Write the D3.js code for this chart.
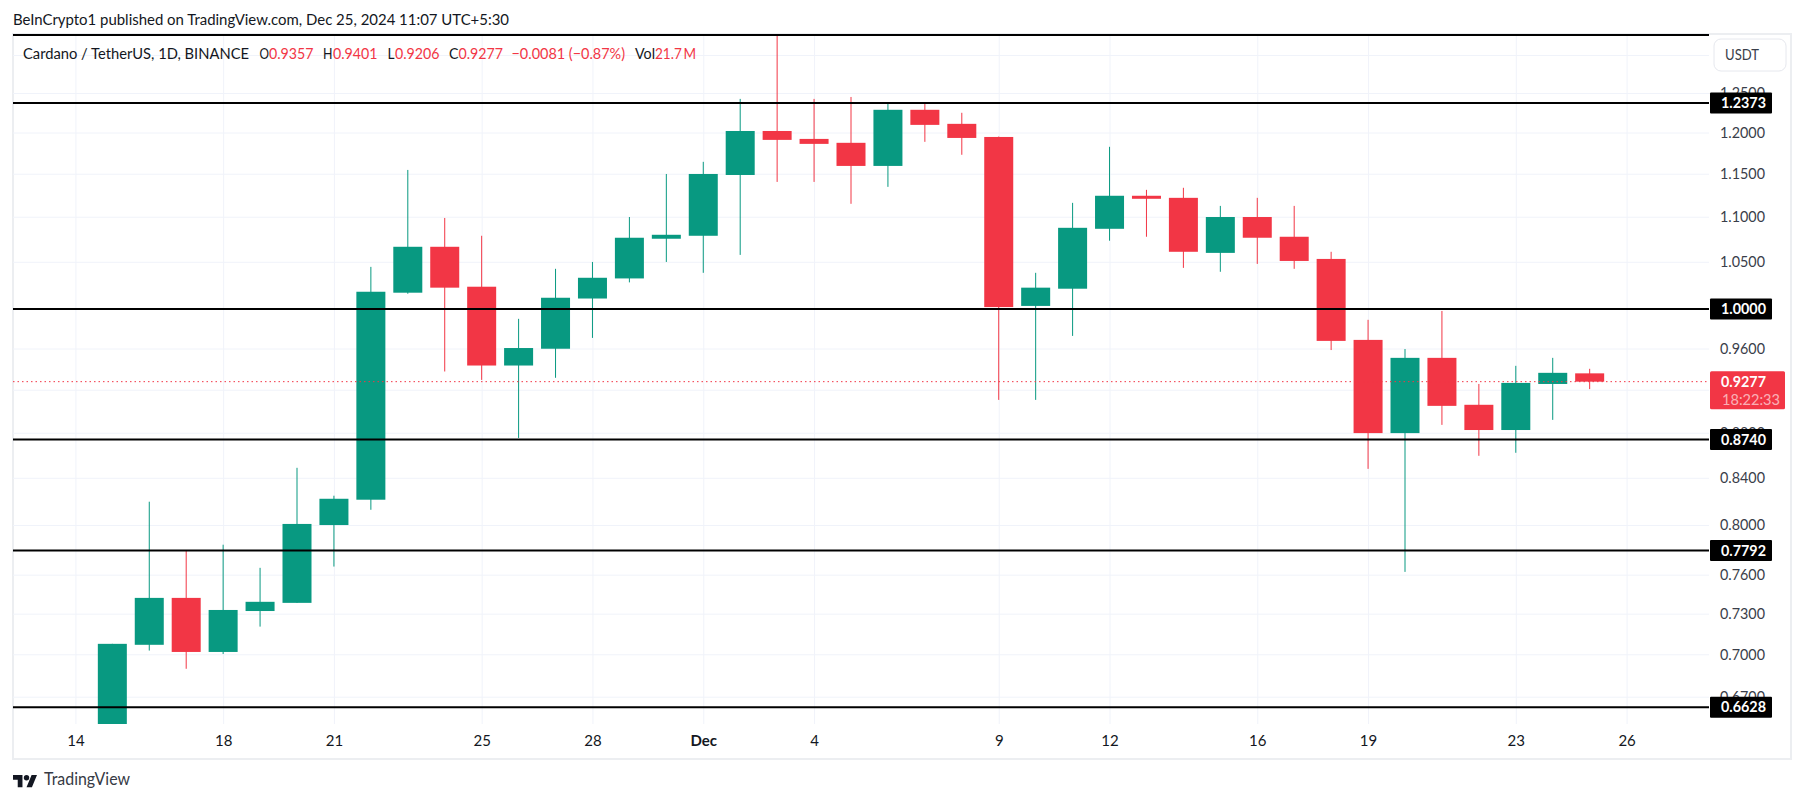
<!DOCTYPE html>
<html><head><meta charset="utf-8">
<script src="https://cdn.jsdelivr.net/npm/d3@7"></script>
<style>html,body{margin:0;padding:0;background:#fff;overflow:hidden}svg{display:block}text{font-family:"Lato","Open Sans",sans-serif}</style>
</head><body><svg id="c" width="1804" height="803"></svg>
<script>
const firstDay = "2024-11-15";
const opens  = [0.5800,0.7069,0.7420,0.7017,0.7320,0.7382,0.8000,0.8212,1.0170,1.0664,1.0233,0.9433,0.9598,1.0109,1.0321,1.0753,1.0786,1.1485,1.2019,1.1921,1.1873,1.1593,1.2285,1.2108,1.1945,1.0032,1.0212,1.0864,1.1241,1.1217,1.0597,1.0997,1.0775,1.0531,0.9686,0.8797,0.9508,0.9058,0.8825,0.9255,0.9357];
const highs  = [0.7076,0.8195,0.7793,0.7839,0.7654,0.8487,0.8246,1.0445,1.1545,1.0986,1.0786,0.9899,1.0424,1.0498,1.0997,1.1497,1.1642,1.2424,1.3300,1.2424,1.2449,1.2361,1.2361,1.2247,1.1950,1.0381,1.1159,1.1824,1.1310,1.1334,1.1124,1.1217,1.1124,1.0609,0.9889,0.9595,0.9980,0.9255,0.9430,0.9508,0.9401];
const lows   = [0.5700,0.7027,0.6896,0.7002,0.7203,0.7382,0.7664,0.8127,1.0159,0.9375,0.9294,0.8753,0.9314,0.9706,1.0279,1.0498,1.0381,1.0575,1.1403,1.1403,1.1148,1.1345,1.1885,1.1727,0.9104,0.9104,0.9726,1.0731,1.0775,1.0434,1.0392,1.0477,1.0424,0.9585,0.8478,0.7622,0.8872,0.8593,0.8620,0.8918,0.9206];
const closes = [0.7076,0.7420,0.7017,0.7328,0.7390,0.8009,0.8220,1.0180,1.0664,1.0223,0.9433,0.9605,1.0117,1.0328,1.0764,1.0797,1.1497,1.2019,1.1909,1.1860,1.1593,1.2285,1.2095,1.1933,1.0020,1.0223,1.0875,1.1241,1.1206,1.0609,1.0997,1.0764,1.0509,0.9676,0.8797,0.9508,0.9048,0.8825,0.9265,0.9362,0.9277];
const levels = [1.3272,1.2373,1.0000,0.8740,0.7792,0.6628];
const labelledLevels = [1.2373,1.0000,0.8740,0.7792,0.6628];
const gridPrices = [1.30,1.25,1.20,1.15,1.10,1.05,1.00,0.96,0.92,0.88,0.84,0.80,0.76,0.73,0.70,0.67];
const priceTicks = [1.25,1.20,1.15,1.10,1.05,0.96,0.88,0.84,0.80,0.76,0.73,0.70,0.67];
const timeTicks = ["2024-11-14","2024-11-18","2024-11-21","2024-11-25","2024-11-28","2024-12-01","2024-12-04","2024-12-09","2024-12-12","2024-12-16","2024-12-19","2024-12-23","2024-12-26"];
const lastPrice = 0.9277;
const countdown = "18:22:33";
const titleText = "BeInCrypto1 published on TradingView.com, Dec 25, 2024 11:07 UTC+5:30";
const symbolText = "Cardano / TetherUS, 1D, BINANCE";
const legendLabels = ["O","H","L","C"];
const legendValues = ["0.9357","0.9401","0.9206","0.9277"];
const changeText = "\u22120.0081 (\u22120.87%)";
const volLabel = "Vol", volValue = "21.7\u2009M";

const UP="#089981", DOWN="#f23645", GRID="#f0f3fa", INK="#131722", FRAME="#eceef1", AXIS="#3a3e4a";
const pane={l:13,r:1709,t:34,b:724};
const svg=d3.select("#c");
const parse=d3.utcParse("%Y-%m-%d");
const x=d3.scaleUtc().domain([parse("2024-11-14"),parse("2024-12-26")]).range([75.4,1626.6]);
const y=d3.scaleLog().domain([1.25,0.67]).range([93,696.7]);
const start=parse(firstDay);
const candles=opens.map((o,i)=>({date:d3.utcDay.offset(start,i),o,h:highs[i],l:lows[i],c:closes[i]}));

svg.append("defs").append("clipPath").attr("id","pane").append("rect")
  .attr("x",pane.l).attr("y",pane.t).attr("width",pane.r-pane.l).attr("height",pane.b-pane.t);

// frame
svg.append("rect").attr("x",13).attr("y",34).attr("width",1778).attr("height",725)
  .attr("fill","#fff").attr("stroke",FRAME).attr("stroke-width",2);

// grid
const gridH=svg.append("g").attr("transform",`translate(${pane.l},0)`)
  .call(d3.axisRight(y).tickValues(gridPrices).tickSize(pane.r-pane.l).tickFormat(""));
const gridV=svg.append("g").attr("transform",`translate(0,${pane.t})`)
  .call(d3.axisBottom(x).tickValues(timeTicks.map(parse)).tickSize(pane.b-pane.t).tickFormat(""));
[gridH,gridV].forEach(g=>{g.select(".domain").remove();g.selectAll("line").attr("stroke",GRID).attr("stroke-width",1);});

// candles
const plot=svg.append("g").attr("clip-path","url(#pane)");
const col=d=>d.c>=d.o?UP:DOWN;
const bw=29;
const cg=plot.selectAll("g.candle").data(candles).join("g").attr("class","candle");
cg.append("line").attr("x1",d=>x(d.date)).attr("x2",d=>x(d.date))
  .attr("y1",d=>y(d.h)).attr("y2",d=>y(d.l)).attr("stroke",col).attr("stroke-width",1);
cg.append("rect").attr("x",d=>x(d.date)-bw/2).attr("width",bw)
  .attr("y",d=>y(Math.max(d.o,d.c))).attr("height",d=>Math.max(1,Math.abs(y(d.o)-y(d.c))))
  .attr("fill",col);

// last price dotted + level lines
svg.append("line").attr("x1",pane.l).attr("x2",pane.r).attr("y1",y(lastPrice)).attr("y2",y(lastPrice))
  .attr("stroke",DOWN).attr("stroke-width",1).attr("stroke-dasharray","1.5 3");
svg.append("g").selectAll("line").data(levels).join("line")
  .attr("x1",pane.l).attr("x2",pane.r).attr("y1",d=>y(d)).attr("y2",d=>y(d))
  .attr("stroke","#000").attr("stroke-width",2);

// axes text
const yAxis=svg.append("g").attr("transform","translate(1720,0)")
  .call(d3.axisRight(y).tickValues(priceTicks).tickSize(0).tickPadding(0).tickFormat(d3.format(".4f")));
yAxis.select(".domain").remove();
yAxis.selectAll("text").attr("font-size",15).attr("fill",AXIS).attr("font-family","Lato")
  .attr("textLength",45).attr("lengthAdjust","spacingAndGlyphs");

const fmtT=d=>d.getUTCDate()===1?d3.utcFormat("%b")(d):d3.utcFormat("%-d")(d);
const xAxis=svg.append("g").attr("transform","translate(0,735)")
  .call(d3.axisBottom(x).tickValues(timeTicks.map(parse)).tickSize(0).tickPadding(0).tickFormat(fmtT));
xAxis.select(".domain").remove();
xAxis.selectAll("text").attr("font-size",15).attr("fill",INK).attr("font-family","Lato")
  .attr("font-weight",d=>d.getUTCDate()===1?700:400);

// price labels
const lab=svg.append("g").selectAll("g").data(labelledLevels).join("g")
  .attr("transform",d=>`translate(1710,${y(d)})`);
lab.append("rect").attr("y",-10.5).attr("width",62).attr("height",21).attr("fill","#000").attr("rx",1);
lab.append("text").attr("x",11).attr("dy",5.2).attr("fill","#fff").attr("font-size",15).attr("font-weight",700)
  .attr("textLength",45).attr("lengthAdjust","spacingAndGlyphs").text(d=>d3.format(".4f")(d));

const last=svg.append("g").attr("transform",`translate(1710,${y(lastPrice)})`);
last.append("rect").attr("y",-10.5).attr("width",75).attr("height",38).attr("fill",DOWN).attr("rx",1.5);
last.append("text").attr("x",11).attr("y",5.2).attr("fill","#fff").attr("font-size",15).attr("font-weight",700)
  .attr("textLength",45).attr("lengthAdjust","spacingAndGlyphs").text(d3.format(".4f")(lastPrice));
last.append("text").attr("x",12).attr("y",23).attr("fill","#fff").attr("fill-opacity",.62).attr("font-size",15)
  .attr("textLength",58).attr("lengthAdjust","spacingAndGlyphs").text(countdown);

// currency button
svg.append("rect").attr("x",1714).attr("y",39).attr("width",72).attr("height",32).attr("rx",7)
  .attr("fill","#fff").attr("stroke","#e6e8ee");
svg.append("text").attr("x",1725).attr("y",60).attr("font-size",15).attr("fill",AXIS)
  .attr("textLength",34).attr("lengthAdjust","spacingAndGlyphs").text("USDT");

// texts
function txt(s,xp,yp,w,fill,size){
  return svg.append("text").attr("x",xp).attr("y",yp).attr("fill",fill).attr("font-size",size||15)
    .attr("textLength",w).attr("lengthAdjust","spacingAndGlyphs").text(s);
}
txt(titleText,13,25,496,INK,15.5);
txt(symbolText,23,59,226,INK,15.5);
const lx=[259.5,323,387.5,449], vx=[269,333,395,458.5];
legendLabels.forEach((s,i)=>{txt(s,lx[i],59,s==="L"?7:9.5,INK,15.5);txt(legendValues[i],vx[i],59,44.5,DOWN,15.5);});
txt(changeText,511.5,59,113.5,DOWN,15.5);
txt(volLabel,635,59,20,INK,15.5);
txt(volValue,655,59,41,DOWN,15.5);

// logo
const logo=svg.append("g").attr("transform","translate(13,772.3) scale(.676)").attr("fill","#131722");
logo.append("path").attr("d","M14 22H7V11H0V4h14v18zM28 22h-8l7.5-18h8L28 22z");
logo.append("circle").attr("cx",20).attr("cy",8).attr("r",4);
txt("TradingView",44,785,86,"#363a45",17);
</script></body></html>
